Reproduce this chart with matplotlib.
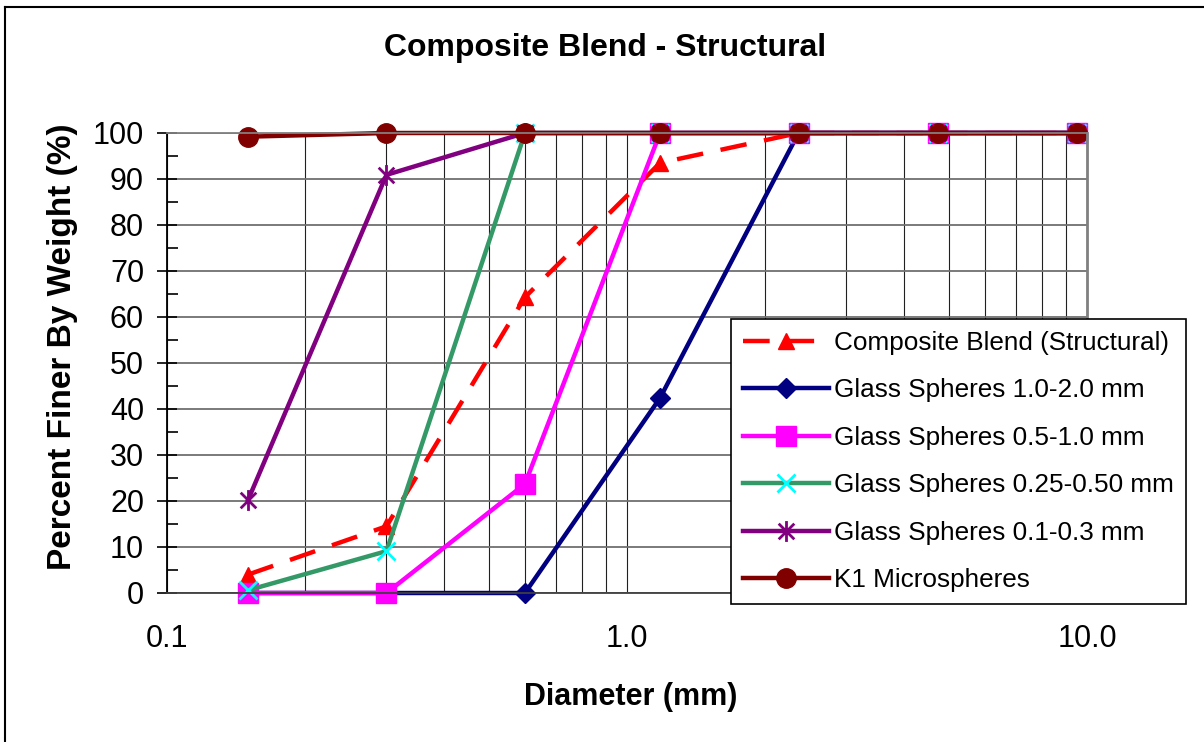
import matplotlib
matplotlib.use('Agg')
import matplotlib.pyplot as plt
from matplotlib.path import Path
from matplotlib.lines import Line2D
from matplotlib.ticker import FixedLocator, NullFormatter

plt.rcParams['font.family'] = ['Liberation Sans', 'DejaVu Sans']

# sieve sizes (mm)
diameter = [0.15, 0.3, 0.6, 1.18, 2.36, 4.75, 9.5]

composite = [4, 14.5, 64.3, 93.5, 100, 100, 100]
glass_1_2 = [0, 0, 0, 42.4, 100, 100, 100]
glass_05_1 = [0, 0, 23.7, 100, 100, 100, 100]
glass_025_05 = [0.6, 9.1, 100, 100, 100, 100, 100]
glass_01_03 = [20.2, 90.9, 100, 100, 100, 100, 100]
k1_micro = [99.2, 100, 100, 100, 100, 100, 100]

names = ['Composite Blend (Structural)', 'Glass Spheres 1.0-2.0 mm',
         'Glass Spheres 0.5-1.0 mm', 'Glass Spheres 0.25-0.50 mm',
         'Glass Spheres 0.1-0.3 mm', 'K1 Microspheres']

xticks = [0.1, 1.0, 10.0]
xticklabels = ['0.1', '1.0', '10.0']

# excel style asterisk: X plus vertical bar
star = Path([(0, -1), (0, 1), (-0.75, -0.75), (0.75, 0.75),
             (-0.75, 0.75), (0.75, -0.75)],
            [Path.MOVETO, Path.LINETO] * 3)

W, H = 1204, 742
fig = plt.figure(figsize=(W / 100, H / 100), dpi=100)
ax = fig.add_axes([167 / W, 1 - 593 / H, 920 / W, 460 / H])

lw = 3.2
ax.plot(diameter, composite, color='#FF0000', lw=lw, dashes=(6, 4),
        marker='^', ms=12, label=names[0], clip_on=False)
ax.plot(diameter, glass_1_2, color='#000080', lw=lw,
        marker='D', ms=10, label=names[1], clip_on=False)
ax.plot(diameter, glass_05_1, color='#FF00FF', lw=lw,
        marker='s', ms=14, label=names[2], clip_on=False)
ax.plot(diameter, glass_025_05, color='#339966', lw=lw,
        marker='x', ms=13, mew=2, mec='#00FFFF', label=names[3],
        clip_on=False)
ax.plot(diameter, glass_01_03, color='#800080', lw=lw,
        marker=star, ms=15, mew=2, label=names[4], clip_on=False)
ax.plot(diameter, k1_micro, color='#800000', lw=lw,
        marker='o', ms=14, label=names[5], clip_on=False)

ax.set_xscale('log')
ax.set_xlim(0.1, 10)
ax.set_ylim(0, 100)

ax.xaxis.set_major_locator(FixedLocator(xticks))
ax.set_xticklabels(xticklabels)
minors = [m * d for d in (0.1, 1.0) for m in range(2, 10)]
ax.xaxis.set_minor_locator(FixedLocator(minors))
ax.xaxis.set_minor_formatter(NullFormatter())
ax.tick_params(axis='x', which='both', length=0, pad=22, labelsize=22)

ax.set_yticks(range(0, 101, 10))
ax.set_yticks(range(5, 100, 10), minor=True)
ax.tick_params(axis='y', which='major', direction='inout', length=15,
               width=1.2, pad=9, labelsize=22)
ax.tick_params(axis='y', which='minor', direction='in', length=8, width=1.2)

ax.grid(True, which='major', axis='y', color='#707070', lw=1.3)
ax.grid(True, which='both', axis='x', color='#202020', lw=0.8)
ax.set_axisbelow(True)

ax.spines['left'].set_color('black')
ax.spines['left'].set_linewidth(1.3)
ax.spines['bottom'].set_color('#404040')
ax.spines['bottom'].set_linewidth(1.3)
ax.spines['right'].set_color('#808080')
ax.spines['right'].set_linewidth(2)
ax.spines['top'].set_color('#808080')
ax.spines['top'].set_linewidth(1.3)

fig.text(605 / W, 1 - 48 / H, 'Composite Blend - Structural',
         fontsize=23, fontweight='bold', ha='center', va='center')
fig.text(631 / W, 1 - 697 / H, 'Diameter (mm)',
         fontsize=22, fontweight='bold', ha='center', va='center')
fig.text(63 / W, 1 - 347 / H, 'Percent Finer By Weight (%)',
         fontsize=24, fontweight='bold', ha='center', va='center',
         rotation=90)

leg = fig.legend(loc='upper left', bbox_to_anchor=(731 / W, 1 - 319 / H),
                 fontsize=18.8, frameon=True, fancybox=False, framealpha=1,
                 edgecolor='black', handlelength=3.3, handletextpad=0.2,
                 labelspacing=0.9, borderpad=0.45, borderaxespad=0)
leg.get_frame().set_linewidth(1.2)

# chart area border (only left and top visible in the frame)
fig.add_artist(Line2D([5 / W, 5 / W], [0, 1 - 7 / H], color='black', lw=1.5))
fig.add_artist(Line2D([5 / W, 1], [1 - 7 / H, 1 - 7 / H], color='black', lw=1.5))

fig.savefig('out.png', dpi=100)
